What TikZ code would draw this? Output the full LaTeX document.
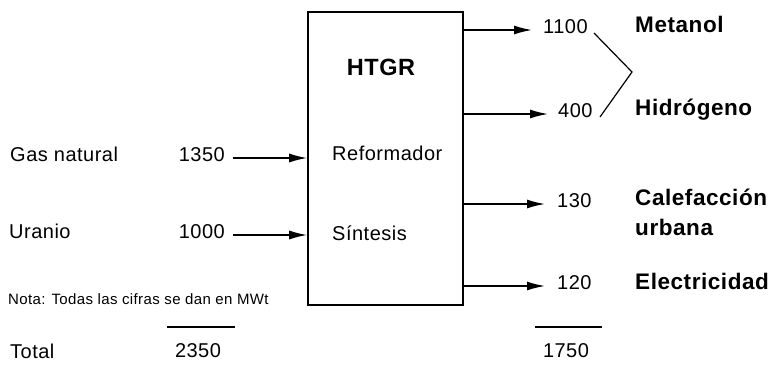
\documentclass[tikz,border=0pt]{standalone}
\usepackage{fontspec}
\setmainfont{Liberation Sans}[LetterSpace=2.5]
\usetikzlibrary{arrows.meta}
\begin{document}
\begin{tikzpicture}[x=1pt,y=-1pt,
  lbl/.style={inner sep=0pt, text height=0.72em, text depth=0pt, font=\fontsize{20}{22}\selectfont},
  blbl/.style={inner sep=0pt, text height=0.72em, text depth=0pt, font=\fontsize{22.5}{25}\bfseries\selectfont, anchor=west},
  note/.style={inner sep=0pt, text height=0.72em, text depth=0pt, font=\fontsize{15}{17}\selectfont, anchor=west},
  arr/.style={line width=1.5pt, -{Latex[length=18pt,width=9pt]}},
  boxst/.style={draw, line width=1.6pt, minimum width=155pt, minimum height=293pt, inner sep=0pt},
  rule/.style={line width=1.3pt}]
\useasboundingbox (0,0) rectangle (780,367);
\fill[white] (0,0) rectangle (780,367);

% central box
\node[boxst] (box) at (385.5,158.5) {};
\node[inner sep=0pt, text height=0.72em, text depth=0pt, font=\fontsize{23.5}{26}\bfseries\selectfont] (htgr) at (381,72) {HTGR};
\node[lbl, anchor=west] (ref) at (332,157) {Reformador};
\node[lbl, anchor=west] (sin) at (332,237) {Síntesis};

% inputs
\node[lbl, anchor=west] (gas) at (10,158) {Gas natural};
\node[lbl, anchor=east] (n1350) at (225,158) {1350};
\node[lbl, anchor=west] (ura) at (9,235) {Uranio};
\node[lbl, anchor=east] (n1000) at (225,235) {1000};
\draw[arr] ([xshift=8pt]n1350.east) -- (n1350.east -| box.west);
\draw[arr] ([xshift=8pt]n1000.east) -- (n1000.east -| box.west);

% note and totals
\node[note] (nota) at (8,301) {Nota: Todas las cifras se dan en MWt};
\node[lbl, anchor=west] (total) at (10,355) {Total};
\node[lbl] (n2350) at (198,354) {2350};
\coordinate (bl1) at (167,327);
\coordinate (bl2) at (235,327);
\draw[rule] (bl1) -- (bl2);
\node[lbl] (n1750) at (566,354) {1750};
\coordinate (br1) at (535,327);
\coordinate (br2) at (602,327);
\draw[rule] (br1) -- (br2);

% outputs
\node[lbl, anchor=west] (n1100) at (543,30) {1100};
\node[lbl, anchor=west] (n400) at (558,114) {400};
\node[lbl, anchor=west] (n130) at (557,204) {130};
\node[lbl, anchor=west] (n120) at (557,286) {120};
\draw[arr] (n1100.west -| box.east) -- ([xshift=-11pt]n1100.west);
\draw[arr] (n400.west -| box.east) -- ([xshift=-10pt]n400.west);
\draw[arr] (n130.west -| box.east) -- ([xshift=-12pt]n130.west);
\draw[arr] (n120.west -| box.east) -- ([xshift=-12pt]n120.west);

% bracket
\coordinate (k1) at (594,33);
\coordinate (k2) at (632,72);
\coordinate (k3) at (600,117);
\draw[line width=1.2pt] (k1) -- (k2) -- (k3);

% output labels
\node[blbl] (met) at (635,29) {Metanol};
\node[blbl] (hid) at (635,112) {Hidrógeno};
\node[blbl] (cal) at (635,202) {Calefacción};
\node[blbl] (urb) at (635,232) {urbana};
\node[blbl] (ele) at (635,286) {Electricidad};
\end{tikzpicture}
\end{document}
